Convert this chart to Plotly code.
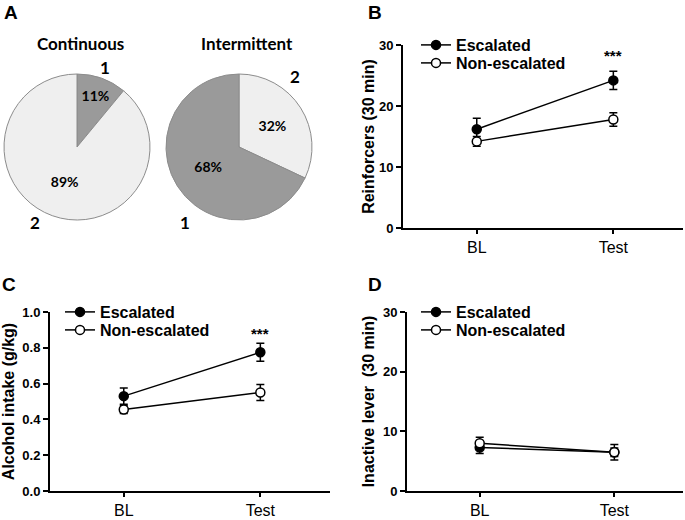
import plotly.graph_objects as go

# panel A - pie charts (% of animals)
pie_groups = ['1', '2']
continuous_pct = [11, 89]
intermittent_pct = [68, 32]

# panels B-D
sessions = ['BL', 'Test']

reinf_esc = [16.2, 24.2]
reinf_esc_err = [1.8, 1.5]
reinf_non = [14.2, 17.8]
reinf_non_err = [0.8, 1.1]

intake_esc = [0.53, 0.775]
intake_esc_err = [0.045, 0.05]
intake_non = [0.455, 0.55]
intake_non_err = [0.022, 0.045]

inactive_esc = [7.3, 6.5]
inactive_esc_err = [1.0, 1.3]
inactive_non = [8.0, 6.5]
inactive_non_err = [1.0, 0.7]

W, H = 685, 520
ARIAL = 'Liberation Sans'
PIE_FONT = 'Lato'
DARK = '#9a9a9a'
LIGHT = '#efefef'


def px(x):
    return x / W


def py(y):
    return 1 - y / H


fig = go.Figure()

pie_common = dict(sort=False, direction='clockwise', rotation=0, textinfo='percent',
                  textposition='inside', insidetextorientation='horizontal',
                  textfont=dict(family=PIE_FONT, size=14, color='black', weight='bold'),
                  showlegend=False)
fig.add_trace(go.Pie(
    labels=pie_groups, values=continuous_pct,
    marker=dict(colors=[DARK, LIGHT], line=dict(color='#8c8c8c', width=1)),
    domain=dict(x=[px(4), px(150)], y=[py(220), py(74)]), **pie_common))
# intermittent pie starts with group 2 at 12 o'clock
fig.add_trace(go.Pie(
    labels=pie_groups[::-1], values=intermittent_pct[::-1],
    marker=dict(colors=[LIGHT, DARK], line=dict(color='#8c8c8c', width=1)),
    domain=dict(x=[px(166), px(312)], y=[py(220), py(74)]), **pie_common))


def add_pair(esc, esc_err, non, non_err, xa, ya, legs):
    for name, y, err, fill, leg in [('Escalated', esc, esc_err, 'black', legs[0]),
                                    ('Non-escalated', non, non_err, 'white', legs[1])]:
        fig.add_trace(go.Scatter(
            x=sessions, y=y, name=name, mode='lines+markers',
            line=dict(color='black', width=1.5),
            marker=dict(size=9, color=fill, line=dict(color='black', width=1.5)),
            error_y=dict(type='data', array=err, color='black', thickness=1.5, width=4),
            xaxis=xa, yaxis=ya, legend=leg))


add_pair(reinf_esc, reinf_esc_err, reinf_non, reinf_non_err, 'x', 'y', ['legend', 'legend2'])
add_pair(intake_esc, intake_esc_err, intake_non, intake_non_err, 'x2', 'y2',
         ['legend3', 'legend4'])
add_pair(inactive_esc, inactive_esc_err, inactive_non, inactive_non_err, 'x3', 'y3',
         ['legend5', 'legend6'])

axis_common = dict(showline=True, linewidth=2, linecolor='black', ticks='outside',
                   tickwidth=2, tickcolor='black', showgrid=False, zeroline=False,
                   automargin=False)
xfont = dict(family=ARIAL, size=16, color='black')
yfont = dict(family=ARIAL, size=13, color='black', weight='bold')
tfont = dict(family=ARIAL, size=16, color='black', weight='bold')

layout_axes = {}
panels = [
    ('', [403, 683], [45, 228], [0, 30], 10, 'Reinforcers (30 min)', '.0f', 0),
    ('2', [50, 330], [312, 491], [0, 1.0], 0.2, 'Alcohol intake (g/kg)', '.1f', 6),
    ('3', [407, 683], [312, 491], [0, 30], 10, 'Inactive lever  (30 min)', '.0f', 4),
]
for suf, xd, yd, yr, dt, title, fmt, gap in panels:
    layout_axes['xaxis' + suf] = dict(domain=[px(xd[0]), px(xd[1])], range=[-0.54, 1.51],
                                      type='category', anchor='y' + suf, tickfont=xfont,
                                      ticklen=4, **axis_common)
    layout_axes['yaxis' + suf] = dict(domain=[py(yd[1]), py(yd[0])], range=yr, dtick=dt,
                                      tickformat=fmt, anchor='x' + suf, tickfont=yfont,
                                      ticklen=5,
                                      title=dict(text=title, font=tfont, standoff=gap),
                                      **axis_common)
fig.update_layout(**layout_axes)

leg_style = dict(font=dict(family=ARIAL, size=16, color='black', weight='bold'),
                 bgcolor='rgba(0,0,0,0)', itemwidth=30, tracegroupgap=0,
                 xanchor='left', yanchor='middle')
legend_pos = {'legend': (416, 45), 'legend2': (416, 63),
              'legend3': (60, 312), 'legend4': (60, 330),
              'legend5': (416, 312), 'legend6': (416, 330)}
fig.update_layout(**{k: dict(x=px(v[0]), y=py(v[1]), **leg_style)
                     for k, v in legend_pos.items()})

annots = [
    dict(text='A', x=px(2), y=py(0)), dict(text='B', x=px(366), y=py(0)),
    dict(text='C', x=px(0), y=py(272)), dict(text='D', x=px(366), y=py(272)),
]
for a in annots:
    fig.add_annotation(xref='paper', yref='paper', xanchor='left', yanchor='top',
                       showarrow=False, font=dict(family=ARIAL, size=19, color='black',
                                                  weight='bold'), **a)

pie_font = dict(family=PIE_FONT, size=17, color='black', weight='bold')
for txt, x, y in [('Continuous', 80, 43), ('Intermittent', 247, 43),
                  ('1', 105, 67), ('2', 35, 222), ('2', 295, 76), ('1', 185, 222)]:
    fig.add_annotation(xref='paper', yref='paper', x=px(x), y=py(y), text=txt,
                       xanchor='center', yanchor='middle', showarrow=False, font=pie_font)

# significance marks
fig.add_annotation(xref='x', yref='y', x='Test', y=28.3, text='***', showarrow=False,
                   font=dict(family=ARIAL, size=15, color='black', weight='bold'))
fig.add_annotation(xref='x2', yref='y2', x='Test', y=0.88, text='***', showarrow=False,
                   font=dict(family=ARIAL, size=15, color='black', weight='bold'))

fig.update_layout(width=W, height=H, margin=dict(l=0, r=0, t=0, b=0, autoexpand=False),
                  paper_bgcolor='white', plot_bgcolor='white')

# drop the page's default body margin so the figure sits at the window corner
fig.write_html('out.html', config={'displayModeBar': False},
               post_script="document.body.style.margin = '0';")
